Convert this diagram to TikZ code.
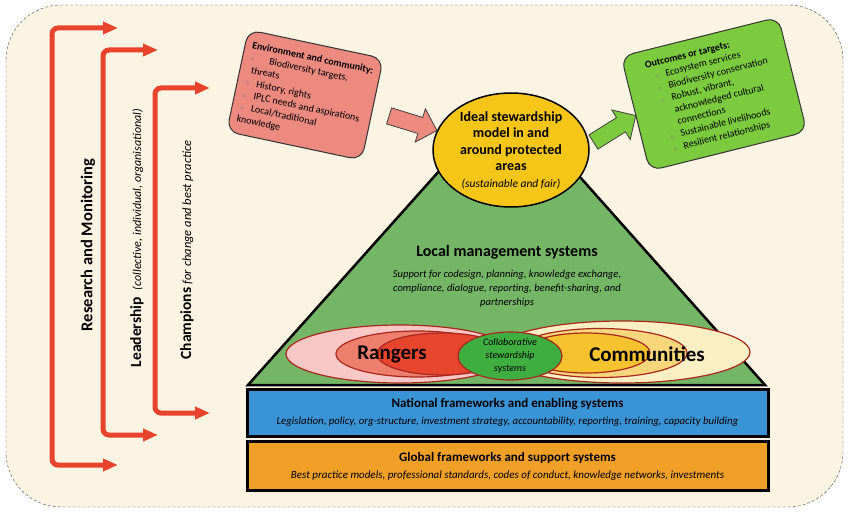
\documentclass[tikz,border=0pt]{standalone}
\usepackage{fontspec}
\setmainfont{Carlito}
\usepackage{tikz}
\usetikzlibrary{positioning, arrows.meta, shapes.geometric, shapes.arrows}
\usepackage{xcolor}

\definecolor{cream}{HTML}{FCF4E2}
\definecolor{bracketred}{HTML}{E8432D}
\definecolor{envpink}{HTML}{EC8A80}
\definecolor{outgreen}{HTML}{7CCB3F}
\definecolor{idealyellow}{HTML}{F5C518}
\definecolor{trigreen}{HTML}{74B666}
\definecolor{pinkouter}{HTML}{F9C8C6}
\definecolor{salmonmid}{HTML}{EE7F6C}
\definecolor{redinner}{HTML}{E8452F}
\definecolor{yellowouter}{HTML}{FCEFC4}
\definecolor{yellowmid}{HTML}{F8D77C}
\definecolor{yellowinner}{HTML}{F6C22E}
\definecolor{collabgreen}{HTML}{3DAE3F}
\definecolor{ringred}{HTML}{A8271E}
\definecolor{natblue}{HTML}{3A93D5}
\definecolor{globorange}{HTML}{F1A027}

\newcommand{\fsz}[2]{\fontsize{#1}{#2}\selectfont}
\newcommand{\bul}{\makebox[12pt][l]{\hspace{1pt}\textcolor{black!55}{$\scriptstyle\circ$}}}

\begin{document}
\begin{tikzpicture}[
    x=1pt, y=-1pt,
    bracket/.style={draw=bracketred, line width=5pt, rounded corners=6pt,
        {Triangle[length=15pt,width=12pt]}-{Triangle[length=15pt,width=12pt]}},
    sidelabel/.style={rotate=90, inner sep=0pt},
    listbox/.style={draw=black!80, line width=1pt, rounded corners=12pt,
        align=left, inner sep=6pt, font=\fsz{10}{12.5}},
    blockarrow/.style={single arrow, draw=black!75, line width=0.8pt,
        single arrow head extend=9pt, minimum height=50pt, inner sep=8pt},
    ring/.style={ellipse, draw=ringred, line width=1.2pt, inner sep=0pt},
    layerbox/.style={draw=black, line width=3pt, minimum width=521pt,
        align=center, inner sep=0pt, font=\fsz{13}{17}\bfseries}
]

\useasboundingbox (0,0) rectangle (850,513);

% Backdrop
\draw[fill=cream, draw=black!70, densely dashed, rounded corners=55pt]
    (6,5) rectangle (843,507);

% Left brackets
\coordinate (rm-top) at (118,28);  \coordinate (rm-tl) at (52,28);
\coordinate (rm-bl) at (52,465);   \coordinate (rm-bot) at (118,465);
\coordinate (ld-top) at (158,50);  \coordinate (ld-tl) at (103,50);
\coordinate (ld-bl) at (103,435);  \coordinate (ld-bot) at (158,435);
\coordinate (ch-top) at (210,88);  \coordinate (ch-tl) at (155,88);
\coordinate (ch-bl) at (155,413);  \coordinate (ch-bot) at (210,413);
\draw[bracket] (rm-top) -- (rm-tl) -- (rm-bl) -- (rm-bot);
\draw[bracket] (ld-top) -- (ld-tl) -- (ld-bl) -- (ld-bot);
\draw[bracket] (ch-top) -- (ch-tl) -- (ch-bl) -- (ch-bot);

\node[sidelabel, font=\fsz{16.5}{18}\bfseries] (research) at (88,245) {Research and Monitoring};
\node[sidelabel, font=\fsz{15.5}{18}\bfseries] (leadership) at (137,238)
    {Leadership\ \ {\fsz{12}{14}\mdseries\itshape (collective, individual, organisational)}};
\node[sidelabel, font=\fsz{15.5}{18}\bfseries] (champions) at (187,250)
    {Champions\ {\fsz{12.5}{14}\mdseries\itshape for change and best practice}};

% Pyramid
\coordinate (tri-l) at (248,385);
\coordinate (tri-r) at (765,385);
\coordinate (tri-t) at (507,95);
\draw[fill=trigreen, draw=black, line width=2.5pt, line join=miter] (tri-l) -- (tri-t) -- (tri-r) -- cycle;

\node[font=\fsz{16}{18}\bfseries] (localtitle) at (507,252) {Local management systems};
\node[align=center, below=4pt of localtitle, font=\fsz{10.6}{14}\itshape] (localtext)
    {Support for codesign, planning, knowledge exchange,\\
     compliance, dialogue, reporting, benefit-sharing, and\\
     partnerships};

% Rangers and communities
\node[ring, fill=pinkouter, minimum width=228pt, minimum height=58pt] (rangout) at (400,354) {};
\node[ring, fill=yellowouter, minimum width=256pt, minimum height=62pt] (commout) at (622,352) {};
\node[ring, fill=salmonmid, minimum width=162pt, minimum height=46pt] (rangmid) at (417,354) {};
\node[ring, fill=yellowmid, minimum width=174pt, minimum height=49pt] (commmid) at (600,353) {};
\node[ring, fill=redinner, minimum width=130pt, minimum height=42pt] (ranginner) at (442,354) {};
\node[ring, fill=yellowinner, minimum width=128pt, minimum height=40pt] (comminner) at (586,353) {};
\node[ring, fill=collabgreen, minimum width=104pt, minimum height=48pt] (collab) at (510,356) {};
\node[align=center, font=\fsz{10}{13.3}\itshape] (collabtext) at (collab) {Collaborative\\stewardship\\systems};
\node[font=\fsz{21}{23}\bfseries] (rangers) at (392,354) {Rangers};
\node[font=\fsz{21}{23}\bfseries] (communities) at (647,354) {Communities};

% Ideal model
\node[ellipse, draw=black, line width=1.5pt, fill=idealyellow, inner sep=0pt,
      minimum width=156pt, minimum height=114pt, align=center,
      font=\fsz{14}{16.5}\bfseries] (ideal) at (511,150)
    {Ideal stewardship\\ model in and\\ around protected\\ areas\\
     {\fsz{11.5}{16.5}\mdseries\itshape (sustainable and fair)}};

% Environment box and outcomes box
\node[listbox, fill=envpink, rotate=-12, minimum width=138pt, minimum height=104pt] (env) at (305,95)
    {\textbf{Environment and community:}\\
     \bul\hspace{8pt}Biodiversity targets,\\
     \hspace{4pt}threats\\
     \bul History, rights\\
     \bul IPLC needs and aspirations\\
     \bul Local/traditional\\
     knowledge};
\node[listbox, fill=outgreen, rotate=14, minimum width=162pt, minimum height=118pt] (outcomes) at (714,94)
    {\textbf{Outcomes or targets:}\\
     \hspace{6pt}\bul Ecosystem services\\
     \hspace{6pt}\bul Biodiversity conservation\\
     \hspace{6pt}\bul Robust, vibrant,\\
     \hspace{18pt}acknowledged cultural\\
     \hspace{18pt}connections\\
     \hspace{6pt}\bul Sustainable livelihoods\\
     \hspace{6pt}\bul Resilient relationships};

\node[blockarrow, fill=envpink, rotate=-17] (envarrow) at (409,122) {};
\node[blockarrow, fill=outgreen, rotate=32] (outarrow) at (611,131) {};

% Frameworks
\node[layerbox, fill=natblue, minimum height=47pt] (national) at (507.5,412.5)
    {National frameworks and enabling systems\\
     {\fsz{10.8}{12}\mdseries\itshape Legislation, policy, org-structure, investment strategy, accountability, reporting, training, capacity building}};
\node[layerbox, fill=globorange, minimum height=49pt] (global) at (507.5,466)
    {Global frameworks and support systems\\
     {\fsz{11}{12}\mdseries\itshape Best practice models, professional standards, codes of conduct, knowledge networks, investments}};

\end{tikzpicture}
\end{document}
